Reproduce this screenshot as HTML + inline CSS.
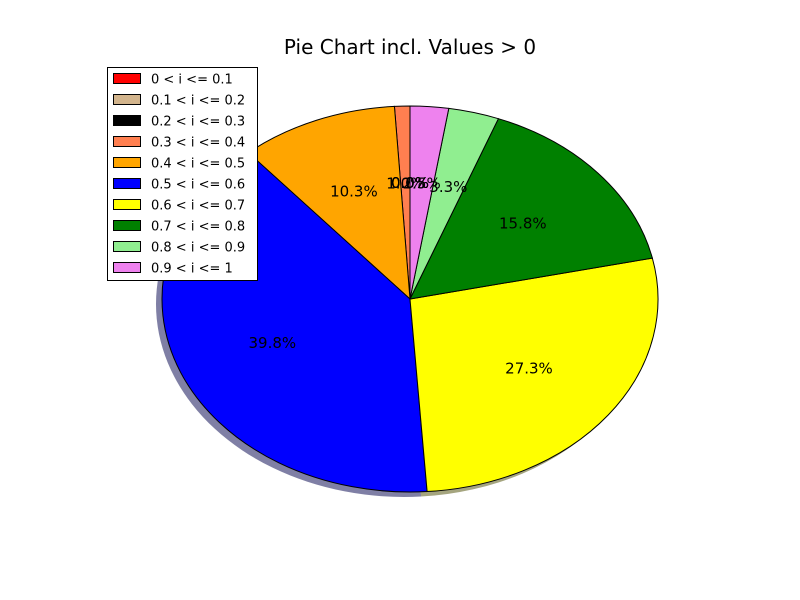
<!DOCTYPE html>
<html><head><meta charset="utf-8"><style>
body{margin:0;background:#fff;}
svg{display:block;font-family:"DejaVu Sans","Liberation Sans",sans-serif;}
</style></head><body>
<svg id="chart" width="800" height="600">
<rect width="800" height="600" fill="#fff"/>
<text x="410" y="54" text-anchor="middle" font-size="20">Pie Chart incl. Values &gt; 0</text>
<g id="shadows"></g>
<g id="slices"></g>
<g id="labels"></g>
<g id="legend"></g>
</svg>
<script>
const categories = ["0 < i <= 0.1","0.1 < i <= 0.2","0.2 < i <= 0.3","0.3 < i <= 0.4","0.4 < i <= 0.5","0.5 < i <= 0.6","0.6 < i <= 0.7","0.7 < i <= 0.8","0.8 < i <= 0.9","0.9 < i <= 1"];
const values = [0, 0, 0, 1.0, 10.3, 39.8, 27.3, 15.8, 3.3, 2.5];
const colors = ["#ff0000","#d2b48c","#000000","#ff7f50","#ffa500","#0000ff","#ffff00","#008000","#90ee90","#ee82ee"];
const NS = "http://www.w3.org/2000/svg";
const cx = 410, cy = 299, rx = 248, ry = 193;
const total = values.reduce((a,b)=>a+b,0);
function pt(deg, f, ox, oy){const r=deg*Math.PI/180;return [cx+ox+f*rx*Math.cos(r), cy+oy-f*ry*Math.sin(r)];}
function slicePath(a0,a1,ox,oy){
  const p0=pt(a0,1,ox,oy), p1=pt(a1,1,ox,oy);
  const large=(a1-a0)>180?1:0;
  return `M${cx+ox},${cy+oy} L${p0[0]},${p0[1]} A${rx},${ry} 0 ${large} 0 ${p1[0]},${p1[1]} Z`;
}
function shade(c){const n=parseInt(c.slice(1),16);const r=(n>>16)*0.3|0,g=((n>>8)&255)*0.3|0,b=(n&255)*0.3|0;return `rgb(${r},${g},${b})`;}
const gS=document.getElementById('shadows'), gP=document.getElementById('slices'), gL=document.getElementById('labels'), gG=document.getElementById('legend');
let a=90;
values.forEach((v,i)=>{
  const sweep=v/total*360; const a0=a, a1=a+sweep; a=a1;
  if(sweep>0){
    const s=document.createElementNS(NS,'path');
    s.setAttribute('d',slicePath(a0,a1,-6,5));
    s.setAttribute('fill',shade(colors[i]));
    s.setAttribute('fill-opacity','0.5');
    
    
    gS.appendChild(s);
    const p=document.createElementNS(NS,'path');
    p.setAttribute('d',slicePath(a0,a1,0,0));
    p.setAttribute('fill',colors[i]);
    p.setAttribute('stroke','#000');
    p.setAttribute('stroke-width','1');
    
    
    gP.appendChild(p);
  }
  const mid=(a0+a1)/2; const lp=pt(mid,0.6,0,0);
  const t=document.createElementNS(NS,'text');
  t.setAttribute('x',lp[0]); t.setAttribute('y',lp[1]+5);
  t.setAttribute('text-anchor','middle'); t.setAttribute('font-size','15');
  t.textContent=v.toFixed(1)+'%';
  
  
  gL.appendChild(t);
});
const box=document.createElementNS(NS,'rect');
box.setAttribute('x',107.5);box.setAttribute('y',67.5);box.setAttribute('width',150);box.setAttribute('height',213);
box.setAttribute('fill','#fff');box.setAttribute('stroke','#000');


gG.appendChild(box);
categories.forEach((c,i)=>{
  const y=79+i*21;
  const r=document.createElementNS(NS,'rect');
  r.setAttribute('x',113.5);r.setAttribute('y',y-5.5);r.setAttribute('width',27);r.setAttribute('height',10);
  r.setAttribute('fill',colors[i]);r.setAttribute('stroke','#000');
  
  
  gG.appendChild(r);
  const t=document.createElementNS(NS,'text');
  t.setAttribute('x',151);t.setAttribute('y',y+4.5);t.setAttribute('font-size','13');
  t.textContent=c;
  
  
  gG.appendChild(t);
});
</script>
</body></html>
